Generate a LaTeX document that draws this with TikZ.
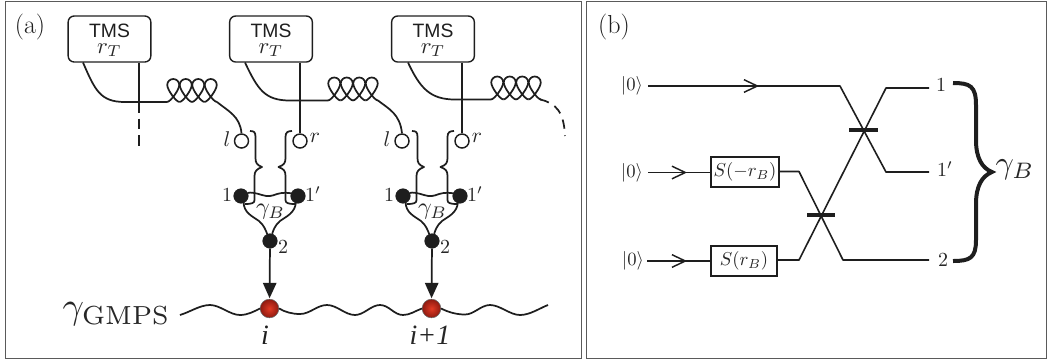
\documentclass[tikz,border=0pt]{standalone}
\usepackage{fontspec}
\newfontfamily\helv{Liberation Sans}
\newfontfamily\timesi{Liberation Serif}[ItalicFont=* Italic]
\usetikzlibrary{arrows.meta,calc}
\definecolor{ink}{HTML}{1E1E1E}
\definecolor{lab}{HTML}{262626}
\definecolor{framec}{HTML}{5A5A5A}
\definecolor{redin}{HTML}{E23A24}
\definecolor{redout}{HTML}{8E1A10}
\tikzset{
  wire/.style={draw=ink,line width=1.3pt,line join=round},
  thin wire/.style={draw=ink,line width=1.2pt,line join=round},
  tmsbox/.style={draw=ink,line width=1.05pt,rounded corners=4.5pt,minimum width=62pt,minimum height=34.5pt,inner sep=0pt},
  open dot/.style={circle,draw=ink,fill=white,line width=1.1pt,minimum size=10.5pt,inner sep=0pt},
  black dot/.style={circle,draw=ink,fill=ink,line width=0.3pt,minimum size=11pt,inner sep=0pt},
  red dot/.style={circle,draw=black!60,line width=0.4pt,inner color=redin,outer color=redout,minimum size=14pt,inner sep=0pt},
  lbl/.style={text=lab,inner sep=0pt,scale=#1,transform shape},
  lbl/.default=1.5,
  gatebox/.style={draw=ink,line width=1.1pt,fill=white,inner sep=0pt,minimum height=22.5pt},
  barbhead/.style={-{Straight Barb[length=10pt,width=9.5pt,line width=1.1pt]}},
  bsbar/.style={draw=ink,line width=2.4pt},
}
% one twist of a coil: #1 = lobe centre x, #2 = bottom y
\newcommand{\coil}[2]{\foreach \k in {0,1,2,3}{
  \pgfmathsetmacro{\cx}{#1+6.25+12.5*\k}
  \draw[wire] (\cx-6.25,#2) .. controls (\cx-3,#2) and (\cx+6,#2-12) .. (\cx+6,#2-17)
    .. controls (\cx+6,#2-20.5) and (\cx+3.3,#2-23) .. (\cx,#2-23)
    .. controls (\cx-3.3,#2-23) and (\cx-6,#2-20.5) .. (\cx-6,#2-17)
    .. controls (\cx-6,#2-12) and (\cx+3,#2) .. (\cx+6.25,#2);
}}
\begin{document}
\begin{tikzpicture}[x=0.75pt,y=-0.75pt]
\useasboundingbox (0,0) rectangle (1047,362);
% frames
\node[draw=framec,line width=0.9pt,minimum width=432pt,minimum height=268pt,inner sep=0pt,anchor=north west] (framea) at (5,0.5) {};
\node[draw=framec,line width=0.9pt,minimum width=345pt,minimum height=268pt,inner sep=0pt,anchor=north west] (frameb) at (586,0.5) {};
\node[inner sep=0pt,text=ink] (lba) at (30,27) {\fontsize{19.5}{21}\selectfont (a)};
\node[inner sep=0pt,text=ink] (lbb) at (614,27) {\fontsize{19.5}{21}\selectfont (b)};
% TMS boxes
\foreach \n/\cx in {1/109.5,2/271,3/433}{
  \node[tmsbox] (tms\n) at (\cx,39) {};
  \node[inner sep=0pt,text=ink] (tmst\n) at (\cx,31) {\helv\fontsize{14.5}{16}\selectfont TMS};
  \node[lbl=1.7] (tmsr\n) at (\cx,50) {$r_T$};
}
% open dots
\node[open dot] (l1) at (241.5,141) {};
\node[open dot] (r1) at (300,141) {};
\node[open dot] (l2) at (402,141) {};
\node[open dot] (r2) at (462,141) {};
\node[lbl=1.6] (ll1) at (227,139) {$l$};
\node[lbl=1.6] (rl1) at (315,138) {$r$};
\node[lbl=1.6] (ll2) at (387,139) {$l$};
\node[lbl=1.6] (rl2) at (477,138) {$r$};
% coils and twin-beam wires
\coordinate (c1) at (167,102);
\coordinate (c2) at (328,100.5);
\coordinate (c3) at (491,99.5);
\coil{167}{102}
\coil{328}{100.5}
\coil{491}{99.5}
\draw[wire] (83,62.5) .. controls (95,90) and (100,102) .. (125,102) -- (c1);
\draw[wire] (245,62.5) .. controls (258,90) and (265,100.5) .. (290,100.5) -- (c2);
\draw[wire] (408,62.5) .. controls (420,88) and (430,99.5) .. (455,99.5) -- (c3);
\draw[wire] (217,102) .. controls (228,111) and (240,116) .. (l1.north);
\draw[wire] (378,100.5) .. controls (389,109) and (400,114) .. (l2.north);
\draw[wire] (tms1.south -| 139,0) -- (139,102);
\draw[wire,dash pattern=on 8pt off 4.5pt] (139,102) -- (139,148);
\draw[wire] (tms2.south -| r1) -- (r1);
\draw[wire] (tms3.south -| r2) -- (r2);
\draw[wire,dash pattern=on 7pt off 5pt] (540,99.5) .. controls (556,103) and (564,112) .. (565,136);
% units
\foreach \s/\n in {0/a,162/b}{
\begin{scope}[shift={(\s,0)}]
  \node[black dot] (one\n) at (241,196) {};
  \node[black dot] (onep\n) at (298,196) {};
  \node[black dot] (two\n) at (270,241) {};
  \draw[wire] (250,131) .. controls (254,131) and (255.5,132) .. (255.5,137) -- (255.5,158)
     .. controls (255.5,163) and (257,165) .. (262,167) .. controls (257,169) and (254.5,171) .. (254.5,176)
     -- (254.5,200) .. controls (254.5,203) and (252,204) .. (245,204);
  \draw[wire] (292,131) .. controls (288,131) and (285.5,132) .. (285.5,137) -- (285.5,158)
     .. controls (285.5,163) and (284,165) .. (278.5,167) .. controls (284,169) and (285.5,171) .. (285.5,176)
     -- (285.5,200) .. controls (285.5,203) and (288,204) .. (295,204);
  \draw[wire] (one\n) .. controls (250,192) and (256,193) .. (262,195) .. controls (268,197) and (272,196) .. (277,194) .. controls (283,192) and (290,193) .. (onep\n);
  \draw[wire] (243.5,202) .. controls (244,213) and (252,216) .. (259,221) .. controls (264,225) and (266,231) .. (two\n);
  \draw[wire] (296,202) .. controls (295,213) and (287,216) .. (280,221) .. controls (275,225) and (273,231) .. (two\n);
  \node[lbl=1.5] (lone\n) at (227,195) {1};
  \node[lbl=1.5] (lonep\n) at (313,194) {$1'$};
  \node[lbl=1.5] (ltwo\n) at (283,247) {2};
  \node[lbl=1.8] (gam\n) at (270.5,212) {$\gamma_B$};
  \node[red dot] (site\n) at (269.5,308.5) {};
  \draw[wire,-{Triangle[length=11.5pt,width=10pt]},shorten >=0.5pt] (two\n) -- (site\n);
\end{scope}}
% wave
\draw[wire] (180,315) .. controls (190,312) and (200,305) .. (210,305) .. controls (220,305) and (230,315) .. (240,315)
  .. controls (248,315) and (255,311) .. (sitea.west);
\draw[wire] (sitea.east) .. controls (285,312) and (292,314) .. (300,314) .. controls (310,314) and (317,305) .. (327,305)
  .. controls (337,305) and (345,315) .. (355,315) .. controls (364,315) and (371,305) .. (380,305)
  .. controls (389,305) and (394,315) .. (403,315) .. controls (410,315) and (415,311) .. (siteb.west);
\draw[wire] (siteb.east) .. controls (448,312) and (456,314.5) .. (465,314.5) .. controls (474,314.5) and (481,305) .. (490,305)
  .. controls (500,305) and (510,315) .. (520,315) .. controls (530,315) and (540,308) .. (548,305);
\node[text=lab,inner sep=0pt,scale=2.8,transform shape,anchor=west] (gmps) at (62,314) {$\gamma_{\mathrm{GMPS}}$};
\node[inner sep=0pt,text=ink] (li) at (265,335) {\timesi\itshape\fontsize{21}{23}\selectfont i};
\node[inner sep=0pt,text=lab] (lip) at (430,335) {\timesi\itshape\fontsize{21}{23}\selectfont i+1};
% panel b
\node[lbl=1.4] (k1) at (632,86) {$|0\rangle$};
\node[lbl=1.4] (k2) at (632,173) {$|0\rangle$};
\node[lbl=1.4] (k3) at (633,261) {$|0\rangle$};
\coordinate (s1) at (648,86); \coordinate (s2) at (648,172.5); \coordinate (s3) at (647,261);
\coordinate (a1) at (759,86); \coordinate (a2) at (687,172.5); \coordinate (a3) at (687,261);
\coordinate (t1) at (840,86); \coordinate (t2) at (886,172); \coordinate (e1p) at (929,172);
\coordinate (t3) at (799,171.5); \coordinate (t4) at (843,260); \coordinate (e2) at (929,260);
\coordinate (t5) at (799,260); \coordinate (t6) at (886,88); \coordinate (e1) at (929,88);
\node[gatebox,minimum width=51pt] (sm) at (745,172) {};
\node[lbl=1.4] (smt) at (745,172) {$S(-r_B)$};
\node[gatebox,minimum width=49.5pt] (sp) at (744,261) {};
\node[lbl=1.4] (spt) at (744,261) {$S(r_B)$};
\draw[thin wire] (s1) -- (t1) -- (t2) -- (e1p);
\draw[thin wire] (s2) -- (sm.west |- s2);
\draw[thin wire] (s3) -- (sp);
\path[thin wire,barbhead] ($(a1)+(-2,0)$) -- (a1);
\path[thin wire,barbhead] ($(a2)+(-2,0)$) -- (a2);
\path[thin wire,barbhead] ($(a3)+(-2,0)$) -- (a3);
\draw[thin wire] (sm.east |- t3) -- (t3) -- (t4) -- (e2);
\draw[thin wire] (sp.east |- t5) -- (t5) -- (t6) -- (e1);
\coordinate (bs1a) at (807,215); \coordinate (bs1b) at (835,215);
\coordinate (bs2a) at (849,130); \coordinate (bs2b) at (878,130);
\draw[bsbar] (bs1a) -- (bs1b);
\draw[bsbar] (bs2a) -- (bs2b);
\node[lbl=1.5] (o1) at (941,85) {1};
\node[lbl=1.5] (o1p) at (945,169) {$1'$};
\node[lbl=1.5] (o2) at (943,260) {2};
\draw[draw=ink,line width=3pt] (953,83) .. controls (970,83) and (976,86) .. (976,105) -- (976,140)
  .. controls (976,158) and (982,168) .. (992,172) .. controls (982,176) and (976,186) .. (976,204) -- (976,240)
  .. controls (976,258) and (970,261) .. (953,261);
\node[lbl=2.4] (gb) at (1015,170) {$\gamma_B$};
\end{tikzpicture}
\end{document}
